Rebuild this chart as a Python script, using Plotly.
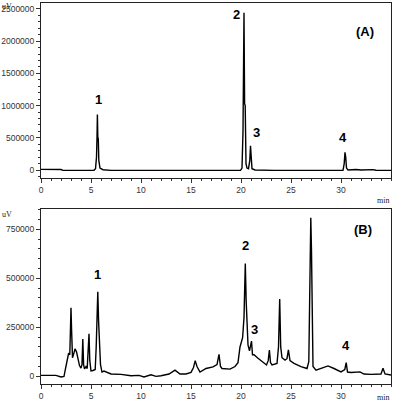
import plotly.graph_objects as go
from plotly.subplots import make_subplots

# ---- Data ----
time_a = [0, 1.5, 2.0, 2.2, 5.3, 5.45, 5.55, 5.6, 5.64, 5.68, 5.73, 5.78, 5.9, 6.2, 7.0,
          19.95, 20.1, 20.2, 20.3, 20.36, 20.42, 20.5, 20.6, 20.75, 20.88, 20.95, 21.02,
          21.1, 21.4, 23.0, 23.3, 30.2, 30.32, 30.4, 30.47, 30.55, 30.7, 31.5, 32.0,
          33.2, 33.5, 35.0]
signal_a = [10000, 10000, 8000, -5000, -5000, 20000, 200000, 500000, 860000, 520000,
            480000, 150000, 30000, 5000, -5000,
            -5000, 30000, 600000, 2440000, 1030000, 1000000, 100000, 30000, 20000,
            150000, 376000, 150000,
            20000, 0, 5000, -5000, -5000, 100000, 274000, 200000, 30000, 0, 8000, 0,
            6000, -3000, -5000]

time_b = [0, 1.5, 2.0, 2.3, 2.45, 2.6, 2.75, 2.88, 2.95, 3.0, 3.05, 3.15, 3.3, 3.4, 3.55,
          3.7, 3.85, 4.0, 4.1, 4.18, 4.26, 4.35, 4.5, 4.62, 4.72, 4.8, 4.88, 5.0, 5.2,
          5.42, 5.52, 5.6, 5.68, 5.76, 5.85, 5.95, 6.1, 6.3, 7.0, 8.0, 9.0, 9.8, 10.3,
          11.0, 11.5, 12.0, 12.8, 13.4, 13.9, 14.5, 15.0, 15.25, 15.42, 15.6, 15.9,
          16.5, 17.2, 17.6, 17.8, 17.95, 18.1, 18.9, 19.4, 19.7, 19.9, 20.16, 20.3,
          20.43, 20.52, 20.6, 20.7, 20.85, 20.95, 21.05, 21.15, 21.3, 21.7, 22.1,
          22.55, 22.72, 22.84, 22.95, 23.1, 23.6, 23.75, 23.87, 23.97, 24.1, 24.4,
          24.6, 24.74, 24.9, 25.3, 26.0, 26.6, 26.78, 26.88, 26.98, 27.05, 27.1, 27.2,
          27.5, 28.0, 28.7, 29.3, 30.0, 30.38, 30.52, 30.65, 31.0, 31.9, 32.3, 33.0,
          34.0, 34.2, 34.4, 35.0]
signal_b = [5000, 5000, -3000, 0, 40000, 90000, 115000, 110000, 250000, 350000, 250000,
            95000, 120000, 140000, 125000,
            95000, 55000, 42000, 60000, 190000, 60000, 38000, 50000, 40000, 120000,
            217000, 80000, 28000, 30000,
            35000, 150000, 300000, 432000, 280000, 190000, 60000, 22000, 27000, 12000,
            10000, 3000, 5000, -3000,
            8000, 0, 3000, 12000, 32000, 12000, 12000, 20000, 45000, 80000, 50000, 22000,
            40000, 48000, 60000, 112000, 50000, 40000, 37000, 50000, 70000, 150000,
            197000, 300000,
            576000, 380000, 250000, 160000, 130000, 150000, 180000, 110000, 110000,
            92000, 75000,
            58000, 80000, 134000, 70000, 58000, 66000, 150000, 394000, 150000, 95000,
            83000,
            90000, 135000, 80000, 66000, 50000, 40000, 75000, 400000, 809000, 636000,
            300000, 50000,
            32000, 40000, 53000, 40000, 23000, 35000, 70000, 22000, 20000, 23000, 12000,
            10000,
            12000, 41000, 12000, 7000]

peak_labels = ["1", "2", "3", "4"]
labels_a_x = [5.7, 19.5, 21.5, 30.2]
labels_a_y = [1090000, 2410000, 575000, 512000]
labels_b_x = [5.6, 20.4, 21.3, 30.45]
labels_b_y = [517000, 670000, 241000, 156000]

ticks_a = [0, 500000, 1000000, 1500000, 2000000, 2500000]
ticks_b = [0, 250000, 500000, 750000]
ticks_x = [0, 5, 10, 15, 20, 25, 30]

# ---- Figure ----
W, H = 395, 411
ML, MR, MT, MB = 41, 4, 3, 27
plot_h = H - MT - MB

fig = make_subplots(rows=2, cols=1, shared_xaxes=False, vertical_spacing=0)

line_style = dict(color="black", width=1.4)
fig.add_trace(go.Scatter(x=time_a, y=signal_a, mode="lines", line=line_style,
                         showlegend=False, hoverinfo="skip"), row=1, col=1)
fig.add_trace(go.Scatter(x=time_b, y=signal_b, mode="lines", line=line_style,
                         showlegend=False, hoverinfo="skip"), row=2, col=1)

tick_font = dict(family="Liberation Sans, Arial, sans-serif", size=8.5, color="#333")

def ydom(top_px, bot_px):
    return [(H - MB - bot_px) / plot_h, (H - MB - top_px) / plot_h]

axis_common = dict(showgrid=False, zeroline=False, showline=True, linecolor="#222",
                   linewidth=1, mirror=True, ticks="outside", ticklen=4,
                   tickcolor="#333", tickfont=tick_font)

fig.update_xaxes(range=[0, 35], tickvals=ticks_x, ticktext=[str(v) for v in ticks_x],
                 **axis_common,
                 minor=dict(dtick=1, ticks="outside", ticklen=2, tickcolor="#333",
                            showgrid=False))
fig.update_yaxes(**axis_common)

fig.update_layout(
    yaxis=dict(domain=ydom(3, 178), range=[-124000, 2593000], tickvals=ticks_a,
               ticktext=[str(v) for v in ticks_a],
               minor=dict(dtick=100000, ticks="outside", ticklen=2, tickcolor="#333",
                          showgrid=False)),
    yaxis2=dict(domain=ydom(209, 384), range=[-39000, 853600], tickvals=ticks_b,
                ticktext=[str(v) for v in ticks_b],
                minor=dict(dtick=50000, ticks="outside", ticklen=2, tickcolor="#333",
                           showgrid=False)),
    xaxis=dict(anchor="y"),
    xaxis2=dict(anchor="y2"),
)

label_font = dict(family="Liberation Sans, Arial, sans-serif", size=13, color="black")
annotations = []
for lab, x, y in zip(peak_labels, labels_a_x, labels_a_y):
    annotations.append(dict(x=x, y=y, xref="x", yref="y", text="<b>%s</b>" % lab,
                            showarrow=False, font=label_font))
for lab, x, y in zip(peak_labels, labels_b_x, labels_b_y):
    annotations.append(dict(x=x, y=y, xref="x2", yref="y2", text="<b>%s</b>" % lab,
                            showarrow=False, font=label_font))

def px(xp):
    return (xp - ML) / (W - ML - MR)

def py(yp):
    return (H - MB - yp) / plot_h

annotations.append(dict(x=px(376), y=py(22), xref="paper", yref="paper", text="<b>(A)</b>",
                        showarrow=False, font=label_font))
annotations.append(dict(x=px(374), y=py(229), xref="paper", yref="paper", text="<b>(B)</b>",
                        showarrow=False, font=label_font))
small_font = dict(family="Liberation Serif, serif", size=8, color="#222")
annotations.append(dict(x=px(0), y=py(0), xref="paper", yref="paper", text="uV",
                        xanchor="left", yanchor="top",
                        showarrow=False, font=small_font))
annotations.append(dict(x=px(0), y=py(208), xref="paper", yref="paper", text="uV",
                        xanchor="left", yanchor="top",
                        showarrow=False, font=small_font))
annotations.append(dict(x=px(391), y=py(200), xref="paper", yref="paper", text="min",
                        xanchor="right", showarrow=False, font=small_font))
annotations.append(dict(x=px(391), y=py(404), xref="paper", yref="paper", text="min",
                        xanchor="right", showarrow=False, font=small_font))

fig.update_layout(
    width=W, height=H,
    margin=dict(l=ML, r=MR, t=MT, b=MB, autoexpand=False),
    paper_bgcolor="white", plot_bgcolor="white",
    annotations=annotations,
    showlegend=False,
)

fig.write_html("out.html", config={"displayModeBar": False},
               post_script="document.body.style.margin='0';document.body.style.overflow='hidden';")
